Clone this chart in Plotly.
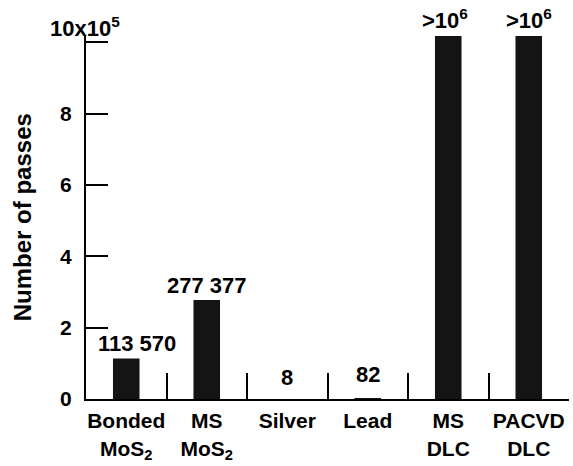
import plotly.graph_objects as go

categories = ["Bonded<br>MoS<sub>2</sub>", "MS<br>MoS<sub>2</sub>", "Silver", "Lead",
              "MS<br>DLC", "PACVD<br>DLC"]
passes = [113570, 277377, 8, 82, 1017000, 1017000]
value_labels = ["113 570", "277 377", "8", "82", ">10<sup>6</sup>", ">10<sup>6</sup>"]
label_yshift = [0, 0, 7, 10, 1, 1]
label_xshift = [11, 0, 0, 0, -3, 0]
scale = 1e5
y_tickvals = [0, 2, 4, 6, 8, 10]
y_ticktext = ["0", "2", "4", "6", "8", ""]

FONT = "Liberation Sans, Arial, Helvetica, sans-serif"

y_vals = [p / scale for p in passes]

fig = go.Figure(go.Bar(
    x=categories, y=y_vals, width=0.33,
    marker=dict(color="#141414", line=dict(width=0)),
))

annotations = []
for c, v, t, ys, xs in zip(categories, y_vals, value_labels, label_yshift, label_xshift):
    annotations.append(dict(
        x=c, y=v, xref="x", yref="y", text="<b>%s</b>" % t, showarrow=False,
        yanchor="bottom", xanchor="center", yshift=ys, xshift=xs,
        font=dict(family=FONT, size=22, color="black"),
    ))
annotations.append(dict(
    x=0, y=10, xref="paper", yref="y", text="<b>10x10<sup>5</sup></b>", showarrow=False,
    xanchor="center", yanchor="middle", yshift=15, xshift=-1,
    font=dict(family=FONT, size=22, color="black"),
))
annotations.append(dict(
    x=-0.132, y=0.50, xref="paper", yref="paper", text="<b>Number of passes</b>",
    showarrow=False, textangle=-90, xanchor="center", yanchor="middle",
    font=dict(family=FONT, size=24, color="black"),
))
fig.update_layout(annotations=annotations)

fig.update_layout(
    width=573, height=466,
    margin=dict(l=86, r=4, t=35, b=67, autoexpand=False),
    paper_bgcolor="white", plot_bgcolor="white",
    showlegend=False,
    font=dict(family=FONT, size=20, color="black"),
    bargap=0.67,
)
fig.update_xaxes(
    type="category", showgrid=False, zeroline=False, automargin=False,
    showline=True, linecolor="black", linewidth=2,
    ticks="inside", tickson="boundaries", ticklen=26, tickwidth=1.5, tickcolor="black",
    tickfont=dict(family=FONT, size=21, color="black"),
    tickangle=0,
    ticklabelstandoff=2,
    tickvals=categories,
    ticktext=["<b>%s</b>" % c for c in categories],
)
fig.update_yaxes(
    range=[0, 10.2], showgrid=False, zeroline=False, automargin=False,
    showline=True, linecolor="black", linewidth=2,
    ticks="inside", ticklen=22, tickwidth=1.5, tickcolor="black",
    tickvals=y_tickvals, ticktext=["<b>%s</b>" % t for t in y_ticktext],
    tickfont=dict(family=FONT, size=21, color="black"),
    ticklabelstandoff=8,
)

fig.write_html("out.html", config={"displayModeBar": False},
               post_script="document.body.style.margin='0';document.body.style.overflow='hidden';")
